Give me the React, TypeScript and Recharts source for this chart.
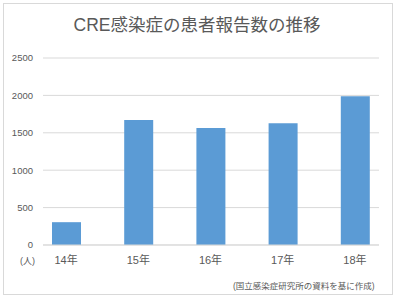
import React from "react";
import { BarChart, Bar, XAxis, YAxis, CartesianGrid } from "recharts";

const categories = ["14年", "15年", "16年", "17年", "18年"];
const reports = [305, 1671, 1565, 1629, 1990];
const yTicks = [0, 500, 1000, 1500, 2000, 2500];

const data = categories.map((c, i) => ({ year: c, value: reports[i] }));

const FONT = '"Liberation Sans", "Noto Sans CJK JP", sans-serif';
const TEXT = "#595959";

export default function App() {
  return (
    <div style={{ position: "absolute", left: 0, top: 0, width: 396, height: 299, background: "#fff", fontFamily: FONT }}>
      <div style={{ position: "absolute", left: 3, top: 3, width: 388, height: 290, border: "1px solid #d9d9d9", boxSizing: "content-box" }} />
      <div style={{ position: "absolute", left: 0, top: 12, width: 394, textAlign: "center", fontSize: 17.5, color: TEXT, lineHeight: "26px", whiteSpace: "nowrap" }}>
        CRE感染症の患者報告数の推移
      </div>
      <BarChart
        width={396}
        height={299}
        data={data}
        margin={{ top: 58, right: 17, bottom: 24, left: 0 }}
        style={{ position: "absolute", left: 0, top: 0 }}
      >
        <CartesianGrid vertical={false} stroke="#d9d9d9" strokeWidth={1} />
        <XAxis
          dataKey="year"
          axisLine={{ stroke: "#d9d9d9" }}
          tickLine={false}
          tickSize={0}
          tickMargin={11}
          height={30}
          padding={{ left: -13, right: -12 }}
          tick={{ fill: TEXT, fontSize: 11, fontFamily: FONT }}
        />
        <YAxis
          domain={[0, 2500]}
          ticks={yTicks}
          axisLine={false}
          tickLine={false}
          tickSize={0}
          tickMargin={10}
          width={43}
          tick={{ fill: TEXT, fontSize: 9.5, fontFamily: FONT }}
        />
        <Bar dataKey="value" fill="#5b9bd5" barSize={29} isAnimationActive={false} />
      </BarChart>
      <div style={{ position: "absolute", left: 20, top: 254, fontSize: 9, color: TEXT, whiteSpace: "nowrap" }}>(人)</div>
      <div style={{ position: "absolute", left: 233, top: 279, fontSize: 8.5, color: TEXT, whiteSpace: "nowrap" }}>
        (国立感染症研究所の資料を基に作成)
      </div>
    </div>
  );
}
